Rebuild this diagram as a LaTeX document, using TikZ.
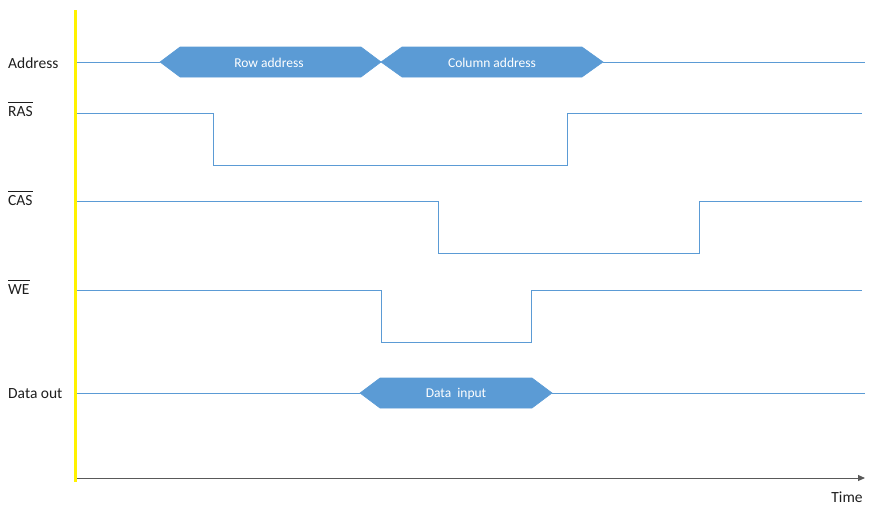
\documentclass[tikz,border=0pt]{standalone}
\usepackage{fontspec}
\setmainfont{Carlito}
\usetikzlibrary{arrows.meta}
\definecolor{sig}{RGB}{91,155,213}
\definecolor{axisgray}{RGB}{89,89,89}
\definecolor{txt}{RGB}{30,30,30}
\tikzset{
  wave/.style={draw=sig, line width=1pt},
  hexbox/.style={fill=sig, draw=sig, line width=0.6pt},
  lbl/.style={anchor=west, font=\fontsize{15.5}{18}\selectfont, text=txt, inner sep=0pt},
  barline/.style={draw=txt, line width=0.8pt},
  hexlbl/.style={font=\fontsize{13.5}{16}\selectfont, text=white, inner sep=0pt},
}
\begin{document}
\begin{tikzpicture}[x=1pt,y=-1pt]
\useasboundingbox (0,0) rectangle (876,514);
% axis
\draw[axisgray, line width=1pt, -{Triangle[length=7pt,width=6pt]}] (75,478) -- (865,478);
\node[font=\fontsize{15.5}{18}\selectfont, text=txt, inner sep=0pt] (time) at (847,497) {Time};
% yellow line
\draw[yellow, line width=3pt] (75,10) -- (75,482);
% labels
\node[lbl] (laddr) at (8,63) {Address};
\node[lbl] (lras) at (8,112) {RAS};
\node[lbl] (lcas) at (8,201) {CAS};
\node[lbl] (lwe) at (8,290) {WE};
\node[lbl] (ldata) at (8,394) {Data out};
\foreach \n in {lras,lcas,lwe}
  \draw[barline] ([yshift=4pt]\n.north west) -- ([yshift=4pt]\n.north east);
% Address
\draw[wave] (77,62) -- (160,62);
\draw[wave] (603,62) -- (865,62);
\draw[hexbox] (160,62) -- (180,47) -- (361,47) -- (381,62) -- (361,77) -- (180,77) -- cycle;
\draw[hexbox] (381,62) -- (402,47) -- (582,47) -- (603,62) -- (582,77) -- (402,77) -- cycle;
\node[hexlbl] (row) at (269,63) {Row address};
\node[hexlbl] (col) at (492,63) {Column address};
% RAS
\draw[wave] (77,113) -- (213,113) -- (213,165) -- (567,165) -- (567,113) -- (862,113);
% CAS
\draw[wave] (77,201) -- (438,201) -- (438,253) -- (699,253) -- (699,201) -- (862,201);
% WE
\draw[wave] (77,290) -- (381,290) -- (381,342) -- (531,342) -- (531,290) -- (862,290);
% Data out
\draw[wave] (77,393) -- (360,393);
\draw[wave] (552,393) -- (865,393);
\draw[hexbox] (360,393) -- (380,378) -- (532,378) -- (552,393) -- (532,408) -- (380,408) -- cycle;
\node[hexlbl] (din) at (456,394) {Data\ \ input};
\end{tikzpicture}
\end{document}
